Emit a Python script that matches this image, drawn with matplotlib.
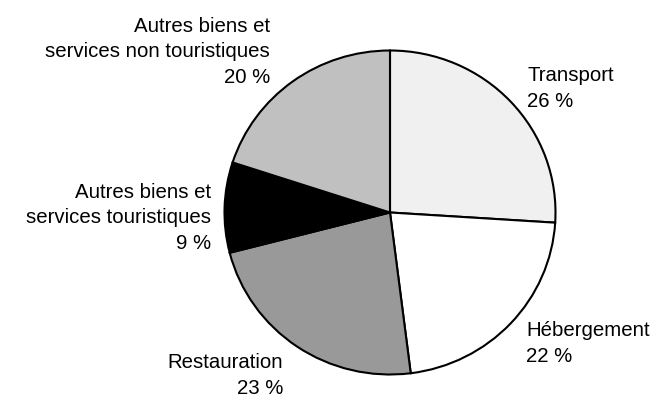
import matplotlib.pyplot as plt

plt.rcParams['font.family'] = ['Liberation Sans', 'DejaVu Sans']

labels = ['Transport', 'Hébergement', 'Restauration',
          'Autres biens et\nservices touristiques',
          'Autres biens et\nservices non touristiques']
values = [26, 22, 23, 9, 20]
colors = ['#f0f0f0', '#ffffff', '#999999', '#000000', '#c0c0c0']

W, H = 655, 398
fig = plt.figure(figsize=(W / 100, H / 100), dpi=100)

# pie box in pixels: centre, horizontal / vertical radius
cx, cy, rx, ry = 390, 212.5, 165.5, 162
pad = 1.02
ax = fig.add_axes([(cx - rx * pad) / W, 1 - (cy + ry * pad) / H,
                   2 * rx * pad / W, 2 * ry * pad / H])
ax.pie(values, colors=colors, startangle=90, counterclock=False,
       wedgeprops=dict(edgecolor='black', linewidth=1.5))
ax.set_xlim(-pad, pad)
ax.set_ylim(-pad, pad)
ax.set_aspect('auto')
ax.axis('off')

# label text: (x, baseline of last line, alignment)
pos = [(527, 107, 'left'), (526, 362, 'left'), (283, 394, 'right'),
       (211, 249, 'right'), (270, 83, 'right')]
for lab, v, (x, y, ha) in zip(labels, values, pos):
    fig.text(x / W, 1 - y / H, f'{lab}\n{v} %', ha=ha, va='baseline',
             multialignment=ha, fontsize=14.7, linespacing=1.45)

fig.savefig('out.png', dpi=100)
